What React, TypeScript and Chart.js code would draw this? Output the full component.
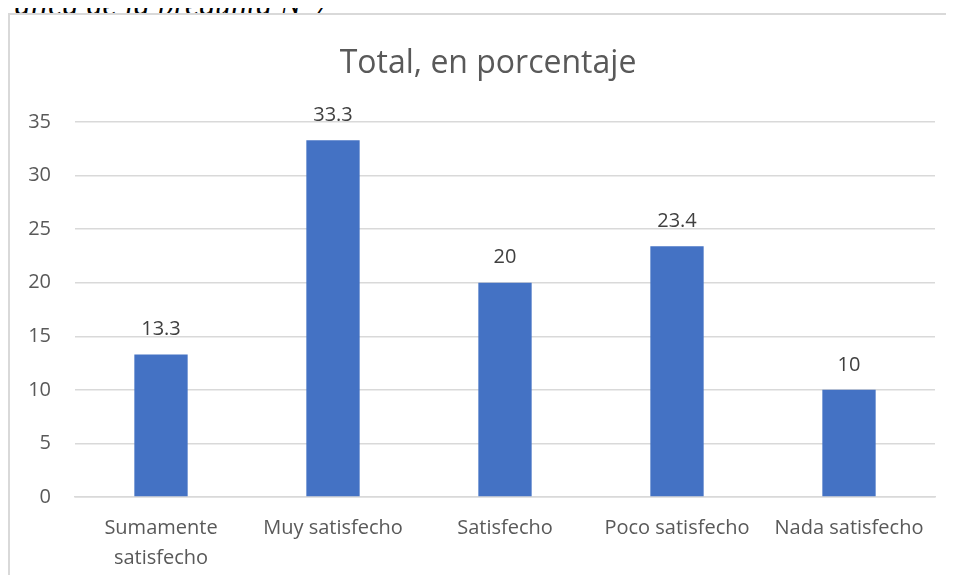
import React, { useEffect, useRef } from "react";
import { Chart, registerables } from "chart.js";

Chart.register(...registerables);

const categories: (string | string[])[] = [
  ["Sumamente", "satisfecho"],
  "Muy satisfecho",
  "Satisfecho",
  "Poco satisfecho",
  "Nada satisfecho",
];
const values: number[] = [13.3, 33.3, 20, 23.4, 10];
const yTicks: number[] = [0, 5, 10, 15, 20, 25, 30, 35];
const titleText = "Total, en porcentaje";
const captionText = "Gráfica de la pregunta N°7";

const FONT = "'Open Sans', 'Noto Sans', sans-serif";

const labelPlugin = {
  id: "barLabels",
  afterDatasetsDraw(chart: any) {
    const ctx = chart.ctx;
    const meta = chart.getDatasetMeta(0);
    ctx.save();
    ctx.font = `20px ${FONT}`;
    ctx.fillStyle = "#404040";
    ctx.textAlign = "center";
    ctx.textBaseline = "middle";
    meta.data.forEach((bar: any, i: number) => {
      ctx.fillText(String(values[i]), bar.x, bar.y - 25);
    });
    // chart title
    ctx.font = `32px ${FONT}`;
    ctx.fillStyle = "#595959";
    ctx.fillText(titleText, 478, 49);
    ctx.restore();
  },
};

export default function App() {
  const ref = useRef<HTMLCanvasElement>(null);
  useEffect(() => {
    if (!ref.current) return;
    const chart = new Chart(ref.current, {
      type: "bar",
      data: {
        labels: categories,
        datasets: [
          {
            data: values,
            backgroundColor: "#4472C4",
            barPercentage: 0.31,
            categoryPercentage: 1,
          },
        ],
      },
      options: {
        animation: false,
        responsive: false,
        maintainAspectRatio: false,
        layout: { padding: { left: 0, right: 19, top: 107, bottom: 0 } },
        plugins: {
          legend: { display: false },
          tooltip: { enabled: false },
          title: { display: false },
        },
        scales: {
          x: {
            grid: { display: false, drawTicks: false },
            border: { display: true, color: "#d9d9d9", width: 1.5 },
            ticks: {
              color: "#595959",
              font: { family: FONT, size: 20, lineHeight: 1.5 },
              padding: 16,
              maxRotation: 0,
              autoSkip: false,
            },
            afterFit: (s: any) => {
              s.height = 91;
            },
          },
          y: {
            min: 0,
            max: 35,
            grid: { color: "#d9d9d9", lineWidth: 1.5, drawTicks: false },
            border: { display: false },
            afterBuildTicks: (s: any) => {
              s.ticks = yTicks.map((v) => ({ value: v }));
            },
            ticks: {
              color: "#595959",
              font: { family: FONT, size: 20 },
              padding: 24,
            },
            afterFit: (s: any) => {
              s.width = 65;
            },
          },
        },
      },
      plugins: [labelPlugin],
    });
    return () => chart.destroy();
  }, []);

  return (
    <div
      style={{
        position: "relative",
        margin: -8,
        width: 954,
        height: 583,
        overflow: "hidden",
        background: "#fff",
      }}
    >
      <div
        style={{
          position: "absolute",
          left: -21,
          top: -11,
          fontFamily: "'Liberation Serif', 'Times New Roman', serif",
          fontStyle: "italic",
          fontSize: 32,
          lineHeight: "30px",
          whiteSpace: "nowrap",
          color: "#000",
        }}
      >
        {captionText}
      </div>
      <div
        style={{
          position: "absolute",
          left: 8,
          top: 13,
          width: 946,
          height: 570,
          borderTop: "2px solid #d9d9d9",
          borderLeft: "2px solid #d9d9d9",
          background: "#fff",
          overflow: "hidden",
        }}
      >
        <canvas ref={ref} width={944} height={573} style={{ display: "block" }} />
      </div>
    </div>
  );
}
